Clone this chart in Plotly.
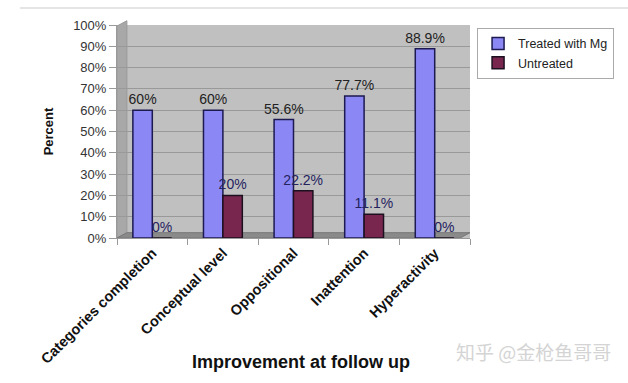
import plotly.graph_objects as go

categories = ["Categories completion", "Conceptual level", "Oppositional", "Inattention", "Hyperactivity"]
treated = [60, 60, 55.6, 66.7, 88.9]
treated_labels = ["60%", "60%", "55.6%", "77.7%", "88.9%"]
untreated = [0, 20, 22.2, 11.1, 0]
untreated_labels = ["0%", "20%", "22.2%", "11.1%", "0%"]
y_ticks = list(range(0, 101, 10))
y_tick_labels = [f"{v}%" for v in y_ticks]

fig = go.Figure()
fig.add_trace(go.Bar(
    x=categories, y=treated, name="Treated with Mg",
    text=treated_labels, textposition="outside", constraintext="none",
    textfont=dict(size=14, color="#222222", family="Liberation Sans, Arial"),
    marker=dict(color="#8b87f5", line=dict(color="#1c1a50", width=1.5)),
    cliponaxis=False,
))
fig.add_trace(go.Bar(
    x=categories, y=untreated, name="Untreated",
    text=untreated_labels, textposition="outside", constraintext="none",
    textfont=dict(size=14, color="#25235e", family="Liberation Sans, Arial"),
    marker=dict(color="#78264e", line=dict(color="#1c1020", width=1.5)),
    cliponaxis=False,
))

fig.update_layout(
    width=628, height=383,
    margin=dict(l=117, r=158, t=25, b=145, autoexpand=False),
    paper_bgcolor="white",
    plot_bgcolor="#c0c0c0",
    barmode="group", bargap=0.45, bargroupgap=0,
    font=dict(family="Liberation Sans, Arial", size=13, color="#333333"),
    showlegend=True,
    legend=dict(
        x=1.02, y=0.986, xanchor="left", yanchor="top",
        bgcolor="white", bordercolor="#aaaaaa", borderwidth=1,
        font=dict(size=12.5, color="#222222"),
        itemwidth=30, tracegroupgap=2,
    ),
    xaxis=dict(
        tickson="boundaries", ticks="outside", ticklen=6, tickcolor="#999999",
        tickangle=-45,
        tickfont=dict(size=14.5, color="#111111", family="Liberation Sans, Arial", weight="bold"),
        showline=True, linecolor="#999999", linewidth=1,
    ),
    yaxis=dict(
        range=[0, 100], tickvals=y_ticks, ticktext=y_tick_labels,
        ticks="outside", ticklen=7, tickcolor="#999999",
        showgrid=True, gridcolor="#999999", gridwidth=1,
        showline=True, linecolor="#999999", linewidth=1,
        zeroline=False,
        tickfont=dict(size=13, color="#333333"),
        title=dict(text="<b>Percent</b>", font=dict(size=13, color="#111111"), standoff=16),
    ),
    shapes=[
        dict(type="line", xref="paper", yref="paper", x0=-0.275, x1=1.45, y0=1.08, y1=1.08,
             line=dict(color="#dcdcdc", width=1.5)),
        dict(type="path", xref="paper", yref="paper",
             path="M 0,0 L 0.028,0.025 L 0.028,1.02 L 0,0.995 Z",
             fillcolor="#a8a8a8", line=dict(color="#999999", width=1), layer="below"),
        dict(type="path", xref="paper", yref="paper",
             path="M 0,0 L 0.028,0.025 L 1.0,0.025 L 0.972,0 Z",
             fillcolor="#8a8a8a", line=dict(color="#777777", width=1), layer="below"),
    ],
    annotations=[
        dict(text="<b>Improvement at follow up</b>", xref="paper", yref="paper", x=0.52, y=-0.582,
             xanchor="center", yanchor="middle", showarrow=False,
             font=dict(size=18, color="#111111")),
        dict(text="知乎 @金枪鱼哥哥", xref="paper", yref="paper", x=1.405, y=-0.535,
             xanchor="right", yanchor="middle", showarrow=False,
             font=dict(family="Noto Sans CJK SC", size=19, color="#d4d4d4")),
    ],
)

fig.write_html("out.html")
